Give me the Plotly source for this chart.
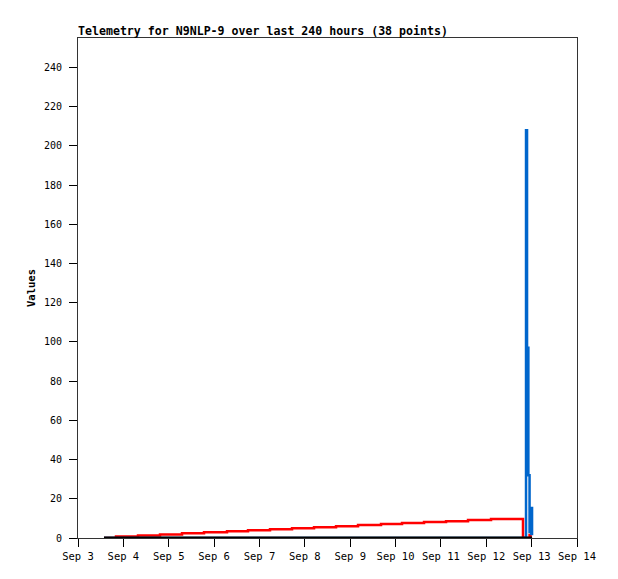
import plotly.graph_objects as go

times = [
    "2023-09-03 13:45", "2023-09-03 20:06", "2023-09-04 07:45", "2023-09-04 19:23",
    "2023-09-05 07:02", "2023-09-05 18:40", "2023-09-06 06:50", "2023-09-06 17:57",
    "2023-09-07 05:35", "2023-09-07 17:14", "2023-09-08 04:52", "2023-09-08 16:31",
    "2023-09-09 04:09", "2023-09-09 16:19", "2023-09-10 03:26", "2023-09-10 15:04",
    "2023-09-11 02:43", "2023-09-11 14:21", "2023-09-12 02:31", "2023-09-12 19:26",
    "2023-09-12 21:02", "2023-09-12 21:34", "2023-09-12 22:16", "2023-09-12 22:54",
    "2023-09-12 23:26", "2023-09-12 23:50", "2023-09-13 00:13",
]
red_vals = [0, 0.8, 1.3, 1.8, 2.4, 2.9, 3.4, 4.0, 4.5, 5.0, 5.5, 6.0, 6.6, 7.1,
            7.6, 8.1, 8.6, 9.2, 9.7, 0, 0, 0, 0, 1.5, 0, 0, 0]
blue_vals = [0, 0, 0, 0, 0, 0, 0, 0, 0, 0, 0, 0, 0, 0,
             0, 0, 0, 0, 0, 0, 208, 97, 32, 3, 13, 2, 16]
black_vals = [0] * len(times)

y_ticks = list(range(0, 241, 20))
x_ticks = ["2023-09-%02d" % d for d in range(3, 15)]
x_labels = ["Sep %d" % d for d in range(3, 15)]

FONT = "DejaVu Sans Mono"
W, H = 610, 571

fig = go.Figure()
fig.add_trace(go.Scatter(x=times, y=red_vals, mode="lines", line_shape="hv",
                         line=dict(color="#ff0000", width=2.5), showlegend=False))
fig.add_trace(go.Scatter(x=times, y=blue_vals, mode="lines", line_shape="hv",
                         line=dict(color="#0066cc", width=2.5), showlegend=False))
fig.add_trace(go.Scatter(x=times, y=black_vals, mode="lines", line_shape="hv",
                         line=dict(color="#000000", width=3), showlegend=False))

fig.update_layout(
    width=W, height=H,
    margin=dict(l=70, r=41, t=30, b=41),
    paper_bgcolor="white", plot_bgcolor="white",
    font=dict(family=FONT, size=10, color="black"),
    title=dict(text="<b>Telemetry for N9NLP-9 over last 240 hours (38 points)</b>",
               x=70 / W, xanchor="left", y=1 - 23 / H, yanchor="middle",
               font=dict(family=FONT, size=11.6, color="black")),
    xaxis=dict(range=["2023-09-03", "2023-09-14"], tickmode="array",
               tickvals=x_ticks, ticktext=x_labels, showgrid=False,
               ticks="outside", ticklen=8, tickcolor="black",
               showline=True, linecolor="#333333", linewidth=1, mirror=True,
               zeroline=False, tickfont=dict(family=FONT, size=10.5)),
    yaxis=dict(range=[0, 255], tickmode="array", tickvals=y_ticks,
               showgrid=False, ticks="outside", ticklen=8, tickcolor="black",
               ticklabelstandoff=5,
               showline=True, linecolor="#333333", linewidth=1, mirror=True,
               zeroline=False, tickfont=dict(family=FONT, size=10),
               title=dict(text="<b>Values</b>", standoff=6,
                          font=dict(family=FONT, size=10.5))),
)

fig.write_html("out.html")
